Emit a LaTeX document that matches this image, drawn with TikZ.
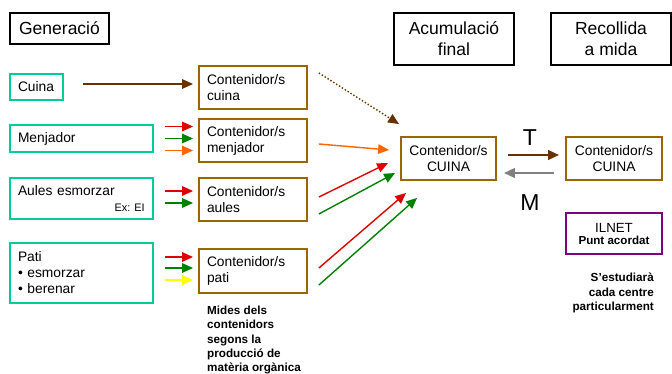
\documentclass[tikz,border=0pt]{standalone}
\usepackage{fontspec}
\setmainfont{Liberation Sans}
\usepackage{xcolor}
\usetikzlibrary{arrows.meta}
\tikzset{>={Triangle[length=11pt,width=9.5pt]}}

\definecolor{srcteal}{RGB}{0,204,153}
\definecolor{contbrown}{RGB}{153,102,0}
\definecolor{arrbrown}{RGB}{102,51,0}
\definecolor{arrred}{RGB}{220,0,0}
\definecolor{arrgreen}{RGB}{0,128,0}
\definecolor{arrorange}{RGB}{255,102,0}
\definecolor{arryellow}{RGB}{255,255,0}
\definecolor{ilpurple}{RGB}{128,0,128}
\definecolor{arrgray}{RGB}{128,128,128}

\newcommand{\fshead}{\fontsize{17.5}{21}\selectfont}
\newcommand{\fsbody}{\fontsize{13.8}{16}\selectfont}
\newcommand{\fsnote}{\fontsize{11.7}{14.3}\selectfont\bfseries}

\tikzset{
    headbox/.style={draw=black, line width=1.8pt, align=center, font=\fshead, inner sep=0pt},
    srcbox/.style={draw=srcteal, line width=1.8pt, align=left, font=\fsbody, inner xsep=8pt, inner ysep=0pt},
    contbox/.style={draw=contbrown, line width=1.8pt, font=\fsbody, inner xsep=8pt, inner ysep=0pt},
    flow/.style={->, line width=1.4pt},
}

\begin{document}
\begin{tikzpicture}[x=1pt, y=-1pt]
        \useasboundingbox (0,0) rectangle (672,374);

        % headings
        \node[headbox, minimum width=99pt, minimum height=31pt] (gen) at (59.5,28.5) {Generació};
        \node[headbox, minimum width=120pt, minimum height=52pt] (acchead) at (454,39) {Acumulació\\final};
        \node[headbox, minimum width=120pt, minimum height=52pt] (rechead) at (611,39) {Recollida\\a mida};

        % generation points
        \node[srcbox, text width=37pt, minimum height=26pt] (cuina) at (36.5,87) {Cuina};
        \node[srcbox, text width=127pt, minimum height=27pt] (menj) at (81.5,138.5) {Menjador};
        \node[srcbox, text width=127pt, minimum height=41pt] (aules) at (81.5,198.5) {Aules esmorzar\\\mbox{}};
        \node[anchor=east, inner sep=0pt, font=\fontsize{10.9}{12}\selectfont] (exei) at ([xshift=-9pt,yshift=12pt]aules.south east) {Ex: EI};
        \node[srcbox, text width=127pt, minimum height=60pt] (pati) at (81.5,273) {Pati\\\textbullet\ esmorzar\\\textbullet\ berenar};

        % containers
        \node[contbox, align=left, text width=92pt, minimum height=43pt] (ccuina) at (253,87.5) {Contenidor/s\\cuina};
        \node[contbox, align=left, text width=92pt, minimum height=43pt] (cmenj) at (253,140.5) {Contenidor/s\\menjador};
        \node[contbox, align=left, text width=92pt, minimum height=43pt] (caules) at (253,199.6) {Contenidor/s\\aules};
        \node[contbox, align=left, text width=92pt, minimum height=44pt] (cpati) at (253,271) {Contenidor/s\\pati};

        % final accumulation and collection
        \node[contbox, align=center, minimum width=95pt, minimum height=43pt] (acc) at (448.5,158.5) {Contenidor/s\\CUINA};
        \node[contbox, align=center, minimum width=96pt, minimum height=43pt] (rcull) at (614,158.5) {Contenidor/s\\CUINA};
        \node[draw=ilpurple, line width=1.8pt, align=center, inner sep=0pt, minimum width=96pt, minimum height=41pt] (ilnet) at (614,233.5)
            {{\fontsize{13.3}{15}\selectfont ILNET}\\{\fontsize{11.6}{14}\selectfont\bfseries Punt acordat}};

        % notes
        \node[anchor=north west, align=left, inner sep=0pt, font=\fsnote] (mides) at (207,306)
            {Mides dels\\contenidors\\segons la\\producció de\\matèria orgànica};
        \node[anchor=east, align=right, inner sep=0pt, font=\fsnote] (estudi) at (654,293)
            {S’estudiarà\\cada centre\\particularment};

        % generation -> containers
        \draw[flow, arrbrown] ([xshift=19pt,yshift=3pt]cuina.east) -- ([xshift=-5pt,yshift=3pt]cuina.east -| ccuina.west);

        \draw[flow, arrred] ([xshift=11pt,yshift=12pt]menj.east) -- ([xshift=-5pt,yshift=12pt]menj.east -| cmenj.west);
        \draw[flow, arrgreen] ([xshift=11pt]menj.east) -- ([xshift=-5pt]menj.east -| cmenj.west);
        \draw[flow, arrorange] ([xshift=11pt,yshift=-12pt]menj.east) -- ([xshift=-5pt,yshift=-12pt]menj.east -| cmenj.west);

        \draw[flow, arrred] ([xshift=11pt,yshift=7.5pt]aules.east) -- ([xshift=-5pt,yshift=7.5pt]aules.east -| caules.west);
        \draw[flow, arrgreen] ([xshift=11pt,yshift=-4.5pt]aules.east) -- ([xshift=-5pt,yshift=-4.5pt]aules.east -| caules.west);

        \draw[flow, arrred] ([xshift=11pt,yshift=16pt]pati.east) -- ([xshift=-5pt,yshift=16pt]pati.east -| cpati.west);
        \draw[flow, arrgreen] ([xshift=11pt,yshift=5pt]pati.east) -- ([xshift=-5pt,yshift=5pt]pati.east -| cpati.west);
        \draw[flow, arryellow] ([xshift=11pt,yshift=-7pt]pati.east) -- ([xshift=-5pt,yshift=-7pt]pati.east -| cpati.west);

        % containers -> final accumulation
        \draw[flow, arrbrown, dotted] ([xshift=11pt,yshift=14.5pt]ccuina.east) -- ([xshift=-1pt,yshift=12pt]acc.north west);
        \draw[flow, arrorange] ([xshift=11pt,yshift=-3.5pt]cmenj.east) -- ([xshift=-11pt,yshift=8.5pt]acc.west);
        \draw[flow, arrred] ([xshift=11pt,yshift=2.6pt]caules.east) -- ([xshift=-12pt,yshift=-4.5pt]acc.west);
        \draw[flow, arrgreen] ([xshift=11pt,yshift=-14.4pt]caules.east) -- ([xshift=-5pt,yshift=-14.5pt]acc.west);
        \draw[flow, arrred] ([xshift=11pt,yshift=3pt]cpati.east) -- ([xshift=6pt,yshift=-12pt]acc.south west);
        \draw[flow, arrgreen] ([xshift=11pt,yshift=-14pt]cpati.east) -- ([xshift=17pt,yshift=-17pt]acc.south west);

        % transport
        \draw[flow, arrbrown, line width=2.4pt] ([xshift=11pt,yshift=3.5pt]acc.east) -- ([xshift=-6pt,yshift=3.5pt]acc.east -| rcull.west);
        \draw[flow, arrgray, line width=2.4pt] ([xshift=-11pt,yshift=-14.5pt]rcull.west) -- ([xshift=7pt,yshift=-14.5pt]rcull.west -| acc.east);
        \node[font=\fontsize{23}{26}\selectfont, inner sep=0pt] (tlab) at (530,138) {T};
        \node[font=\fontsize{23}{26}\selectfont, inner sep=0pt] (mlab) at (530,203) {M};
    \end{tikzpicture}
\end{document}
